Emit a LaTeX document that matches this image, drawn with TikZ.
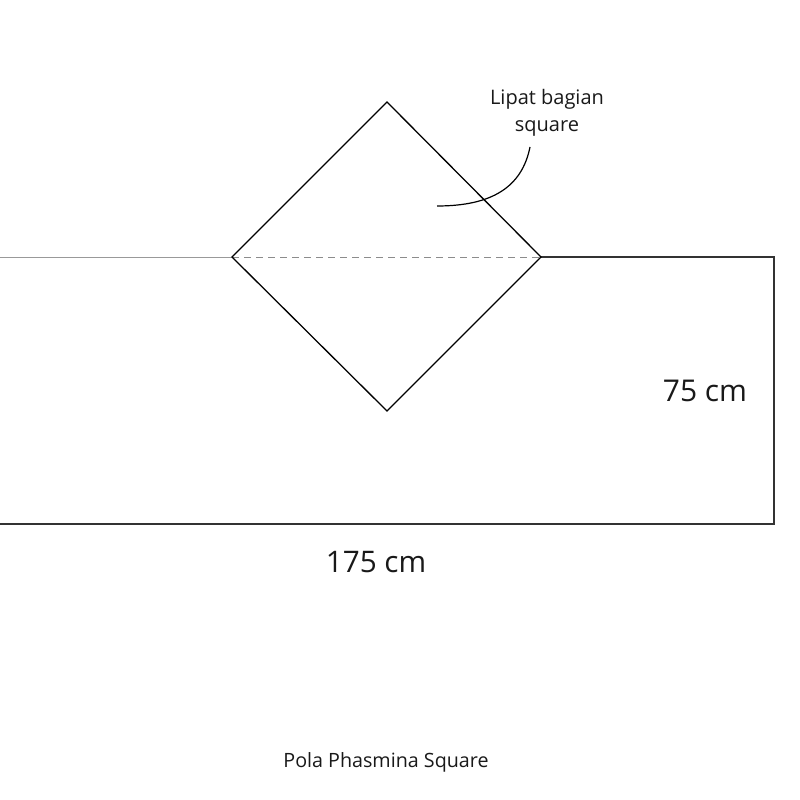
\documentclass[tikz,border=0pt]{standalone}
\usepackage{fontspec}
\setmainfont{Open Sans}
\begin{document}
\begin{tikzpicture}[x=1pt,y=-1pt,
  edge/.style={draw=black!80,line width=1.1pt},
  faint/.style={draw=black!40,line width=1pt},
  dia/.style={draw=black,line width=1.3pt},
  fold/.style={draw=black!45,line width=1pt,dash pattern=on 7pt off 5pt},
  lbl/.style={inner sep=0pt,text=black!90}]
\useasboundingbox (0,0) rectangle (800,800);
\coordinate (tl) at (0,257);
\coordinate (tr) at (774,257);
\coordinate (br) at (774,524);
\coordinate (bl) at (0,524);
\coordinate (dt) at (387,102);
\coordinate (dl) at (232,257);
\coordinate (dr) at (541,257);
\coordinate (db) at (387,411);
\draw[faint] (tl) -- (dl);
\draw[edge] (dr) -- (tr) -- (br) -- (bl);
\draw[fold] (dl) -- (dr);
\draw[dia] (dt) -- (dr) -- (db) -- (dl) -- cycle;
\node[lbl,font=\fontsize{20}{27}\selectfont,align=center] (note) at (547,113) {Lipat bagian\\square};
\coordinate (cs) at (437,206);
\coordinate (ce) at (530,147);
\draw[dia,line width=1.2pt] (cs) .. controls (492,206) and (522,187) .. (ce);
\node[lbl,font=\fontsize{30}{33}\selectfont] (h) at (705,391) {75 cm};
\node[lbl,font=\fontsize{29.7}{33}\selectfont] (w) at (376,562) {175 cm};
\node[lbl,font=\fontsize{19.7}{22}\selectfont] (t) at (386,762) {Pola Phasmina Square};
\end{tikzpicture}
\end{document}
